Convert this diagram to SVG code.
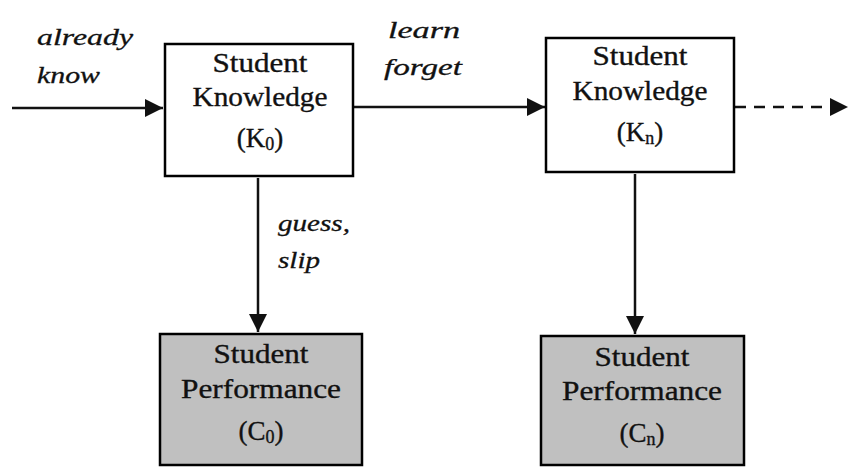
<svg xmlns="http://www.w3.org/2000/svg" width="849" height="467" viewBox="0 0 849 467">
<style>
.box{stroke:#000;stroke-width:2.5;}
.k{fill:#fff;}
.c{fill:#c0c0c0;}
.t{font-family:"Liberation Serif","Times New Roman",serif;font-size:27px;fill:#111;stroke:#111;stroke-width:0.35;text-anchor:middle;}
.l{font-family:"Liberation Serif","Times New Roman",serif;font-size:23px;font-style:italic;fill:#111;stroke:#111;stroke-width:0.3;}
.s{font-size:18px;}
.e{stroke:#111;stroke-width:2.5;fill:none;}
</style>
<defs>
<marker id="a" viewBox="0 0 10 10" refX="10" refY="5" markerWidth="18" markerHeight="18" markerUnits="userSpaceOnUse" orient="auto">
<path d="M0,0 L10,5 L0,10 Z" fill="#111"/>
</marker>
</defs>
<rect width="849" height="467" fill="#fff"/>
<g id="connectors">
<line class="e" x1="12" y1="108" x2="163" y2="108" marker-end="url(#a)"/>
<line class="e" x1="354" y1="107" x2="545" y2="107" marker-end="url(#a)"/>
<line class="e" x1="735" y1="107" x2="848" y2="107" stroke-dasharray="11,8" marker-end="url(#a)"/>
<line class="e" x1="258" y1="178" x2="258" y2="332" marker-end="url(#a)"/>
<line class="e" x1="635" y1="174" x2="635" y2="334" marker-end="url(#a)"/>
<text class="l" x="37" y="45" textLength="96" lengthAdjust="spacingAndGlyphs">already</text>
<text class="l" x="37" y="83" textLength="63" lengthAdjust="spacingAndGlyphs">know</text>
<text class="l" x="388" y="38" textLength="72" lengthAdjust="spacingAndGlyphs">learn</text>
<text class="l" x="384" y="75" textLength="78" lengthAdjust="spacingAndGlyphs">forget</text>
<text class="l" x="278" y="231" textLength="72" lengthAdjust="spacingAndGlyphs">guess,</text>
<text class="l" x="278" y="268" textLength="42" lengthAdjust="spacingAndGlyphs">slip</text>
</g>
<g id="k0">
<rect class="box k" x="165" y="44" width="188" height="132"/>
<text class="t" x="260" y="72" textLength="95" lengthAdjust="spacingAndGlyphs">Student</text>
<text class="t" x="260" y="106" textLength="135" lengthAdjust="spacingAndGlyphs">Knowledge</text>
<text class="t" x="260" y="147">(K<tspan class="s" dy="3">0</tspan><tspan dy="-3">)</tspan></text>
</g>
<g id="kn">
<rect class="box k" x="546" y="38" width="188" height="134"/>
<text class="t" x="640" y="65" textLength="95" lengthAdjust="spacingAndGlyphs">Student</text>
<text class="t" x="640" y="100" textLength="135" lengthAdjust="spacingAndGlyphs">Knowledge</text>
<text class="t" x="640" y="141">(K<tspan class="s" dy="3">n</tspan><tspan dy="-3">)</tspan></text>
</g>
<g id="c0">
<rect class="box c" x="160" y="334" width="202" height="131"/>
<text class="t" x="261" y="363" textLength="95" lengthAdjust="spacingAndGlyphs">Student</text>
<text class="t" x="261" y="398" textLength="160" lengthAdjust="spacingAndGlyphs">Performance</text>
<text class="t" x="261" y="440">(C<tspan class="s" dy="3">0</tspan><tspan dy="-3">)</tspan></text>
</g>
<g id="cn">
<rect class="box c" x="541" y="336" width="203" height="129"/>
<text class="t" x="642" y="366" textLength="95" lengthAdjust="spacingAndGlyphs">Student</text>
<text class="t" x="642" y="400" textLength="160" lengthAdjust="spacingAndGlyphs">Performance</text>
<text class="t" x="642" y="442">(C<tspan class="s" dy="3">n</tspan><tspan dy="-3">)</tspan></text>
</g>
</svg>
